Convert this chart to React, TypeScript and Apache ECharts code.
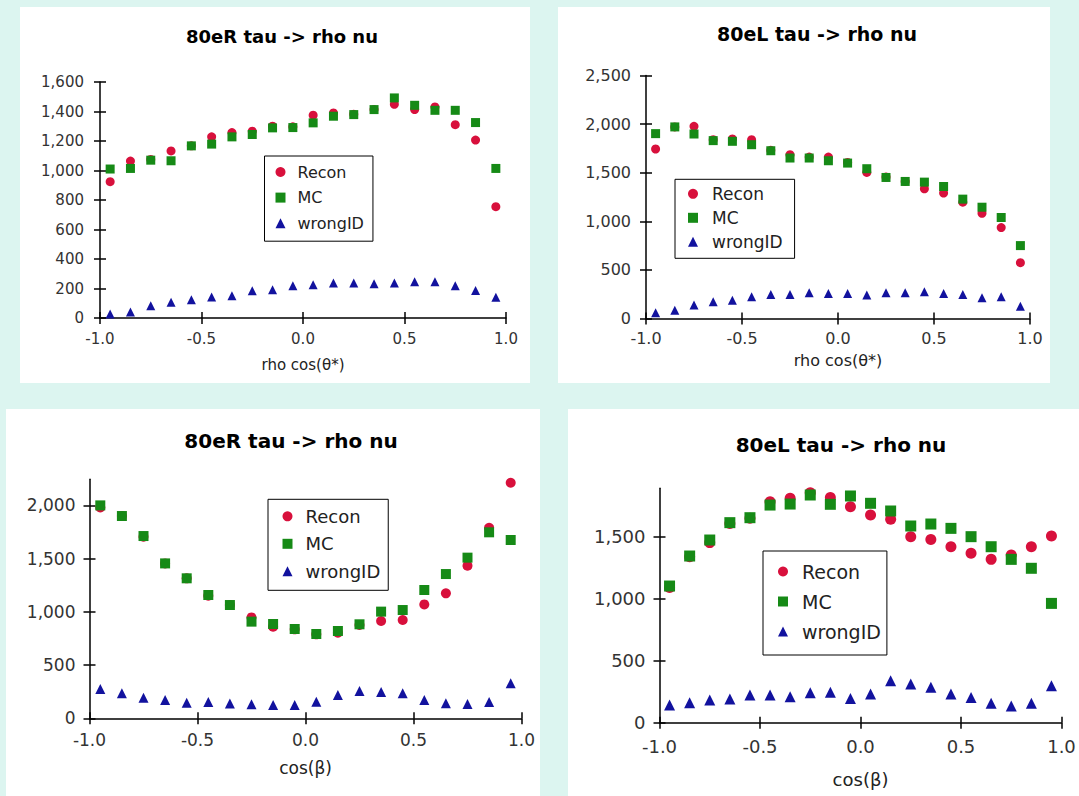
import React, { useEffect, useRef } from 'react';
import * as echarts from 'echarts';

const FONT = '"DejaVu Sans", Verdana, sans-serif';
const RED = '#d8103c';
const GREEN = '#168a16';
const BLUE = '#12129e';
const BG = '#dcf5f0';

const xBins = [-0.95, -0.85, -0.75, -0.65, -0.55, -0.45, -0.35, -0.25, -0.15, -0.05, 0.05, 0.15, 0.25, 0.35, 0.45, 0.55, 0.65, 0.75, 0.85, 0.95];

const titles = ['80eR tau -> rho nu', '80eL tau -> rho nu', '80eR tau -> rho nu', '80eL tau -> rho nu'];
const axisNames = ['rho cos(θ*)', 'rho cos(θ*)', 'cos(β)', 'cos(β)'];
const seriesNames = ['Recon', 'MC', 'wrongID'];
const yTicks1 = [0, 200, 400, 600, 800, 1000, 1200, 1400, 1600];
const yTicks2 = [0, 500, 1000, 1500, 2000, 2500];
const yTicks3 = [0, 500, 1000, 1500, 2000];
const yTicks4 = [0, 500, 1000, 1500];
const yMax = [1600, 2500, 2245, 1890];

const p1Recon = [924, 1064, 1075, 1133, 1167, 1228, 1257, 1266, 1300, 1296, 1375, 1390, 1381, 1413, 1449, 1413, 1431, 1311, 1206, 755];
const p1MC = [1010, 1014, 1070, 1066, 1167, 1179, 1228, 1244, 1289, 1291, 1323, 1368, 1379, 1413, 1492, 1442, 1408, 1408, 1325, 1014];
const p1Wrong = [27, 41, 83, 106, 124, 142, 151, 185, 192, 219, 225, 237, 237, 232, 237, 246, 246, 219, 187, 140];

const p2Recon = [1744, 1971, 1977, 1840, 1847, 1840, 1730, 1685, 1661, 1661, 1606, 1503, 1455, 1410, 1334, 1290, 1197, 1083, 935, 574];
const p2MC = [1902, 1971, 1898, 1830, 1823, 1788, 1726, 1651, 1651, 1623, 1599, 1541, 1451, 1410, 1403, 1358, 1228, 1145, 1039, 750];
const p2Wrong = [58, 86, 138, 172, 189, 224, 248, 248, 265, 258, 258, 241, 265, 265, 275, 258, 248, 213, 224, 127];

const p3Recon = [1981, 1900, 1706, 1455, 1315, 1152, 1064, 948, 861, 836, 789, 804, 876, 914, 923, 1070, 1174, 1434, 1790, 2213];
const p3MC = [2000, 1900, 1712, 1455, 1315, 1158, 1064, 908, 886, 839, 792, 820, 883, 1002, 1017, 1205, 1355, 1509, 1747, 1675];
const p3Wrong = [275, 235, 194, 172, 147, 153, 138, 131, 125, 125, 156, 219, 257, 247, 235, 172, 141, 135, 153, 329];

const p4Recon = [1091, 1339, 1452, 1607, 1648, 1782, 1809, 1855, 1815, 1742, 1675, 1640, 1500, 1478, 1419, 1366, 1317, 1352, 1419, 1505];
const p4MC = [1102, 1344, 1473, 1613, 1653, 1755, 1763, 1836, 1761, 1828, 1769, 1707, 1586, 1602, 1567, 1500, 1419, 1317, 1245, 962];
const p4Wrong = [142, 161, 183, 191, 223, 223, 210, 242, 245, 196, 231, 339, 312, 285, 231, 204, 156, 134, 156, 298];

const panelData = [
  [p1Recon, p1MC, p1Wrong],
  [p2Recon, p2MC, p2Wrong],
  [p3Recon, p3MC, p3Wrong],
  [p4Recon, p4MC, p4Wrong],
];
const panelYTicks = [yTicks1, yTicks2, yTicks3, yTicks4];

// layout (pixels)
const panelRects = [
  { x: 20, y: 7, w: 510, h: 376 },
  { x: 558, y: 7, w: 492, h: 376 },
  { x: 6, y: 409, w: 534, h: 387 },
  { x: 568, y: 409, w: 511, h: 387 },
];
const grids = [
  { left: 100, top: 82, width: 406, height: 236 },
  { left: 646, top: 75.5, width: 384, height: 243 },
  { left: 89.5, top: 479.3, width: 432, height: 239 },
  { left: 659.5, top: 488.3, width: 402, height: 234.4 },
];
const titlePos = [
  { x: 282, y: 36, size: 18 },
  { x: 817, y: 34, size: 19 },
  { x: 291, y: 441, size: 20 },
  { x: 841, y: 445, size: 20 },
];
const tickFont = [15, 16, 17, 18];
const xLabelMargin = [13, 12, 13, 15];
const yLabelMargin = [16, 15, 14, 14];
const nameGap = [39, 34, 41, 48];
const nameFont = [15, 16, 17, 18];
const symSize = [9, 9, 10, 11];
const legends = [
  { left: 264.5, top: 156, font: 16, gap: 9.6, padding: [8, 9, 10, 11], textPad: 7 },
  { left: 675, top: 179.3, font: 17, gap: 7, padding: [6, 12, 8, 13], textPad: 9 },
  { left: 268, top: 499.3, font: 18, gap: 9.5, padding: [8, 8, 10, 14.5], textPad: 8 },
  { left: 763, top: 551, font: 19, gap: 11, padding: [11, 6, 14, 15], textPad: 9 },
];

const symbols = ['circle', 'rect', 'triangle'];
const colors = [RED, GREEN, BLUE];

const fmtX = (v: number) => v.toFixed(1);
const fmtY = (v: number) => v.toLocaleString('en-US');

function buildOption() {
  const xAxis: any[] = [];
  const yAxis: any[] = [];
  const series: any[] = [];
  const legend: any[] = [];
  const lineStyle = { color: '#000', width: 1.5 };

  grids.forEach((g, i) => {
    const yt = panelYTicks[i];
    xAxis.push({
      gridIndex: i,
      type: 'value',
      min: -1,
      max: 1,
      interval: 0.5,
      position: 'bottom',
      name: axisNames[i],
      nameLocation: 'middle',
      nameGap: nameGap[i],
      nameTextStyle: { fontFamily: FONT, fontSize: nameFont[i], color: '#222' },
      axisLine: { show: true, onZero: false, lineStyle },
      axisTick: { show: true, length: 6, lineStyle },
      axisLabel: { formatter: fmtX, fontFamily: FONT, fontSize: tickFont[i], color: '#333', margin: xLabelMargin[i] },
      splitLine: { show: false },
    });
    xAxis.push({
      gridIndex: i,
      type: 'value',
      min: -1,
      max: 1,
      interval: 0.5,
      position: 'bottom',
      axisLine: { show: false, onZero: false },
      axisTick: { show: true, inside: true, length: 6, lineStyle },
      axisLabel: { show: false },
      splitLine: { show: false },
    });
    yAxis.push({
      gridIndex: i,
      type: 'value',
      min: 0,
      max: yMax[i],
      position: 'left',
      axisLine: { show: true, onZero: false, lineStyle },
      axisTick: { show: true, length: 6, lineStyle, customValues: yt },
      axisLabel: { formatter: fmtY, fontFamily: FONT, fontSize: tickFont[i], color: '#333', margin: yLabelMargin[i], customValues: yt },
      splitLine: { show: false },
    });
    yAxis.push({
      gridIndex: i,
      type: 'value',
      min: 0,
      max: yMax[i],
      position: 'left',
      axisLine: { show: false, onZero: false },
      axisTick: { show: true, inside: true, length: 6, lineStyle, customValues: yt },
      axisLabel: { show: false, customValues: yt },
      splitLine: { show: false },
    });

    panelData[i].forEach((vals, k) => {
      series.push({
        type: 'scatter',
        name: seriesNames[k],
        xAxisIndex: 2 * i,
        yAxisIndex: 2 * i,
        symbol: symbols[k],
        symbolSize: symSize[i],
        itemStyle: { color: colors[k], opacity: 1 },
        z: 2 + k,
        data: xBins.map((x, j) => [x, vals[j]]),
      });
    });

    const L = legends[i];
    legend.push({
      orient: 'vertical',
      left: L.left,
      top: L.top,
      padding: L.padding,
      borderColor: '#000',
      borderWidth: 1,
      itemGap: L.gap,
      itemWidth: 10,
      itemHeight: 10,
      selectedMode: false,
      textStyle: { fontFamily: FONT, fontSize: L.font, color: '#222', padding: [0, 0, 0, L.textPad] },
      data: seriesNames.map((n, k) => ({ name: n, icon: symbols[k], itemStyle: { color: colors[k], opacity: 1 } })),
    });
  });

  const graphic: any[] = [];
  panelRects.forEach((r) => {
    graphic.push({
      type: 'rect',
      z: -100,
      shape: { x: r.x, y: r.y, width: r.w, height: r.h },
      style: { fill: '#ffffff' },
      silent: true,
    });
  });
  titlePos.forEach((t, i) => {
    graphic.push({
      type: 'text',
      x: t.x,
      y: t.y,
      z: 10,
      style: {
        text: titles[i],
        fill: '#000',
        fontFamily: FONT,
        fontSize: t.size,
        fontWeight: 'bold',
        align: 'center',
        verticalAlign: 'middle',
      },
    });
  });

  return {
    animation: false,
    backgroundColor: BG,
    grid: grids.map((g) => ({ ...g, containLabel: false })),
    xAxis,
    yAxis,
    legend,
    series,
    graphic,
  };
}

export default function App() {
  const ref = useRef<HTMLDivElement>(null);
  useEffect(() => {
    if (!ref.current) return;
    const chart = echarts.init(ref.current, null, { renderer: 'svg' });
    chart.setOption(buildOption());
    return () => chart.dispose();
  }, []);
  return (
    <div
      ref={ref}
      style={{ position: 'absolute', left: 0, top: 0, width: 1079, height: 796 }}
    />
  );
}
